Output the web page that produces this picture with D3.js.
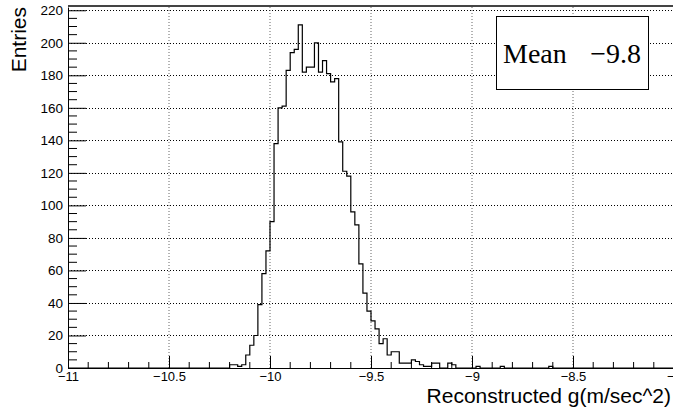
<!DOCTYPE html>
<html>
<head>
<meta charset="utf-8">
<script src="https://cdn.jsdelivr.net/npm/d3@7"></script>
<style>
  body { margin: 0; background: #fff; }
  svg { display: block; }
</style>
</head>
<body>
<svg id="chart" width="673" height="410"></svg>
<script>
// Histogram binning: 150 bins of width 0.02 over [-11, -8]
const xMin = -11, xMax = -8, nBins = 150;
// Bin contents, starting at bin index firstBin (all other bins are empty)
const firstBin = 40;
const counts = [
  2, 2, 1, 2, 8, 14, 20, 39, 58, 72,          // bins 40-49
  90, 138, 160, 161, 183, 194, 196, 211, 182, 185, // bins 50-59
  185, 200, 182, 189, 181, 176, 178, 139, 121, 118, // bins 60-69
  96, 88, 64, 46, 35, 29, 24, 15, 18, 8,       // bins 70-79
  10, 10, 3, 3, 3, 5, 4, 2, 1, 1,              // bins 80-89
  3, 3, 0, 0, 3, 2, 0, 0, 0, 0,                // bins 90-99
  0, 1, 0, 0, 0, 0, 0, 1, 0, 0,                // bins 100-109
  0, 0, 0, 0, 0, 0, 0, 0, 0, 1                 // bins 110-119
];
const xTickValues = [-11, -10.5, -10, -9.5, -9, -8.5, -8];
const yTickValues = [0, 20, 40, 60, 80, 100, 120, 140, 160, 180, 200, 220];
const yMax = 222;
const xTitle = "Reconstructed g(m/sec^2)";
const yTitle = "Entries";
const statName = "Mean";

const plotL = 68, plotR = 674, plotT = 7, plotB = 368;
const svg = d3.select("#chart");

const x = d3.scaleLinear().domain([xMin, xMax]).range([plotL, plotR]);
const y = d3.scaleLinear().domain([0, yMax]).range([plotB, plotT]);

const binWidth = (xMax - xMin) / nBins;
const bins = d3.range(nBins).map(i => ({
  x0: xMin + i * binWidth,
  x1: xMin + (i + 1) * binWidth,
  n: (i >= firstBin && i < firstBin + counts.length) ? counts[i - firstBin] : 0
}));

// Grid lines
const grid = svg.append("g").attr("stroke", "#000").attr("stroke-width", 1)
  .attr("stroke-dasharray", "1,2");
grid.selectAll("line.h").data(yTickValues.filter(v => v > 0)).join("line")
  .attr("class", "h")
  .attr("x1", plotL).attr("x2", plotR)
  .attr("y1", d => Math.round(y(d)) + 0.5).attr("y2", d => Math.round(y(d)) + 0.5);
grid.selectAll("line.v").data(xTickValues.filter(v => v > xMin && v < xMax)).join("line")
  .attr("class", "v")
  .attr("stroke", "#666")
  .attr("x1", d => x(d)).attr("x2", d => x(d))
  .attr("y1", plotT).attr("y2", plotB);

// Top frame edge
svg.append("line").attr("x1", plotL).attr("x2", plotR).attr("y1", 6).attr("y2", 6)
  .attr("stroke", "#444").attr("stroke-width", 2);

// Histogram outline
const pts = [[xMin, 0]];
bins.forEach(b => { pts.push([b.x0, b.n]); pts.push([b.x1, b.n]); });
pts.push([xMax, 0]);
svg.append("path")
  .attr("d", d3.line().x(d => x(d[0])).y(d => y(d[1]))(pts))
  .attr("fill", "none").attr("stroke", "#000").attr("stroke-width", 1.2);

const font = "'Liberation Sans', Arial, Helvetica, sans-serif";

// X axis
const xAxis = svg.append("g").attr("transform", `translate(0,${plotB})`)
  .call(d3.axisBottom(x).tickValues(xTickValues).tickFormat(d3.format("~g"))
    .tickSizeInner(-12).tickSizeOuter(0).tickPadding(4));
xAxis.select(".domain").attr("stroke", "#000");
xAxis.selectAll("text").attr("font-family", font).attr("font-size", 13).attr("fill", "#000");
svg.append("g").attr("transform", `translate(0,${plotB})`)
  .selectAll("line").data(d3.range(-110, -79).map(v => v / 10).filter(v => !xTickValues.some(t => Math.abs(t - v) < 1e-9)))
  .join("line").attr("x1", d => x(d)).attr("x2", d => x(d)).attr("y1", 0).attr("y2", -6)
  .attr("stroke", "#000");

// Y axis
const yAxis = svg.append("g").attr("transform", `translate(${plotL},0)`)
  .call(d3.axisLeft(y).tickValues(yTickValues).tickSizeInner(-18).tickSizeOuter(0).tickPadding(5));
yAxis.select(".domain").attr("stroke", "#000");
yAxis.selectAll("text").attr("font-family", font).attr("font-size", 13.5).attr("fill", "#000");
svg.append("g").attr("transform", `translate(${plotL},0)`)
  .selectAll("line").data(d3.range(5, 221, 5).filter(v => v % 20 !== 0))
  .join("line").attr("x1", 0).attr("x2", 9).attr("y1", d => y(d)).attr("y2", d => y(d))
  .attr("stroke", "#000");

// Axis titles
svg.append("text").attr("x", 671).attr("y", 403).attr("text-anchor", "end")
  .attr("font-family", font).attr("font-size", 21).text(xTitle);
svg.append("text").attr("transform", "translate(26,7) rotate(-90)").attr("text-anchor", "end")
  .attr("font-family", font).attr("font-size", 21).text(yTitle);

// Statistics box
let sw = 0, swx = 0;
bins.forEach(b => { sw += b.n; swx += b.n * (b.x0 + b.x1) / 2; });
const mean = swx / sw;
const serif = "'Liberation Serif', 'Times New Roman', serif";
svg.append("rect").attr("x", 496.5).attr("y", 16.5).attr("width", 152).attr("height", 73)
  .attr("fill", "#fff").attr("stroke", "#000");
svg.append("text").attr("x", 503).attr("y", 63).attr("font-family", serif).attr("font-size", 28)
  .text(statName);
svg.append("text").attr("x", 641).attr("y", 63).attr("text-anchor", "end")
  .attr("font-family", serif).attr("font-size", 28).text(d3.format(".2r")(mean));
</script>
</body>
</html>
